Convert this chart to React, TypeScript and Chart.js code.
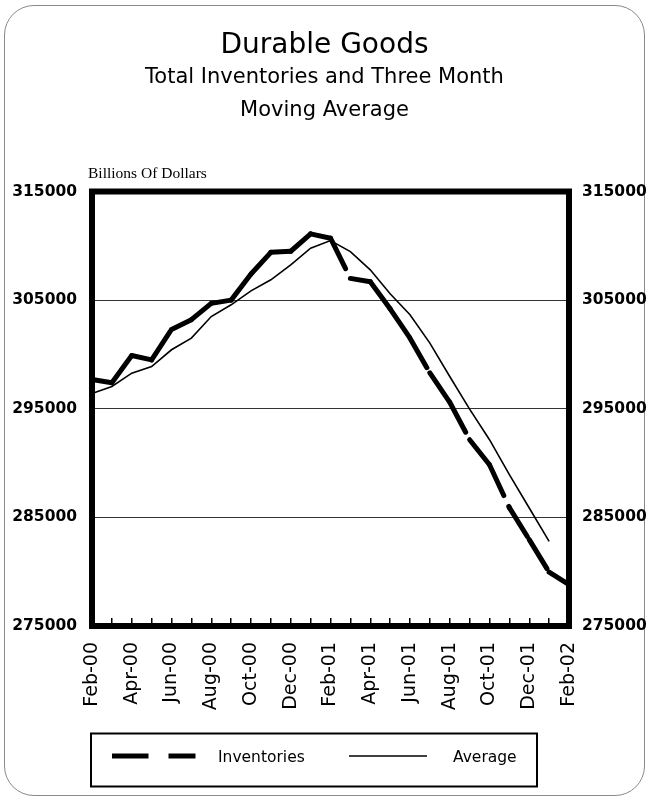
import React, { useEffect, useRef } from 'react';
import { Chart, registerables } from 'chart.js';

Chart.register(...registerables);

const chartTitle = 'Durable Goods';
const chartSubtitle = ['Total Inventories and Three Month', 'Moving Average'];
const yAxisLabel = 'Billions Of Dollars';

const months = [
  'Feb-00', 'Mar-00', 'Apr-00', 'May-00', 'Jun-00', 'Jul-00', 'Aug-00', 'Sep-00',
  'Oct-00', 'Nov-00', 'Dec-00', 'Jan-01', 'Feb-01', 'Mar-01', 'Apr-01', 'May-01',
  'Jun-01', 'Jul-01', 'Aug-01', 'Sep-01', 'Oct-01', 'Nov-01', 'Dec-01', 'Jan-02', 'Feb-02',
];

const inventories = [
  297700, 297400, 299900, 299500, 302300, 303200, 304700, 305000,
  307400, 309400, 309500, 311100, 310700, 307000, 306700, 304200,
  301500, 298300, 295600, 292150, 289850, 285900, 282950, 279950, 278800,
];

const average = [
  296400, 297050, 298280, 298890, 300430, 301500, 303490, 304570,
  305850, 306870, 308250, 309780, 310480, 309470, 307790, 305580,
  303650, 301040, 297970, 294970, 292150, 288930, 285860, 282790, null,
];

const seriesNames = ['Inventories', 'Average'];
const yTickValues = [275000, 285000, 295000, 305000, 315000];

const FONT = '"DejaVu Sans", "Verdana", sans-serif';

export default function App() {
  const canvasRef = useRef<HTMLCanvasElement | null>(null);

  useEffect(() => {
    const canvas = canvasRef.current;
    if (!canvas) return;

    const decor = {
      id: 'decor',
      afterDatasetsDraw(chart: any) {
        const { ctx, chartArea: a } = chart;
        ctx.save();
        ctx.strokeStyle = '#000';
        ctx.lineWidth = 6;
        ctx.setLineDash([]);
        ctx.strokeRect(a.left, a.top, a.right - a.left, a.bottom - a.top);
        ctx.restore();
      },
      afterDraw(chart: any) {
        const { ctx, chartArea: a } = chart;
        ctx.save();
        // axis unit label
        ctx.fillStyle = '#000';
        ctx.font = '15.5px "Liberation Serif", "Times New Roman", serif';
        ctx.textAlign = 'left';
        ctx.textBaseline = 'alphabetic';
        ctx.fillText(yAxisLabel, a.left - 4, a.top - 14);

        // legend box
        ctx.strokeStyle = '#000';
        ctx.lineWidth = 2;
        ctx.setLineDash([]);
        ctx.strokeRect(91, 733.5, 446, 53);

        const ly = 756;
        // Inventories sample
        ctx.lineWidth = 5;
        ctx.lineCap = 'butt';
        ctx.setLineDash([36.5, 20, 27, 1000]);
        ctx.beginPath();
        ctx.moveTo(112, ly);
        ctx.lineTo(196, ly);
        ctx.stroke();
        // Average sample
        ctx.setLineDash([]);
        ctx.lineWidth = 1.6;
        ctx.beginPath();
        ctx.moveTo(349, ly);
        ctx.lineTo(427, ly);
        ctx.stroke();

        ctx.font = '15.5px ' + FONT;
        ctx.textBaseline = 'middle';
        ctx.fillText(seriesNames[0], 218, ly + 2);
        ctx.fillText(seriesNames[1], 453, ly + 2);
        ctx.restore();
      },
    };

    const yMin = yTickValues[0];
    const yMax = yTickValues[yTickValues.length - 1];
    const yStep = yTickValues[1] - yTickValues[0];

    const chart = new Chart(canvas, {
      type: 'line',
      data: {
        labels: months,
        datasets: [
          {
            label: seriesNames[0],
            data: inventories,
            borderColor: '#000',
            backgroundColor: '#000',
            borderWidth: 5,
            borderDash: [34, 12],
            borderCapStyle: 'round',
            borderJoinStyle: 'round',
            pointRadius: 0,
            tension: 0,
            yAxisID: 'y',
            segment: {
              borderDashOffset: (c: any) => c.p0DataIndex * 0.001,
            },
          },
          {
            label: seriesNames[1],
            data: average,
            borderColor: '#000',
            backgroundColor: '#000',
            borderWidth: 1.6,
            pointRadius: 0,
            tension: 0,
            yAxisID: 'y',
          },
        ],
      },
      options: {
        responsive: false,
        animation: false,
        layout: { padding: { top: 0, left: 0, right: 0, bottom: 0 } },
        plugins: {
          legend: { display: false },
          tooltip: { enabled: false },
          title: {
            display: true,
            text: chartTitle,
            color: '#000',
            font: { family: FONT, size: 28, weight: 'normal', lineHeight: '30px' },
            padding: { top: 31, bottom: 0 },
          },
          subtitle: {
            display: true,
            text: chartSubtitle,
            color: '#000',
            font: { family: FONT, size: 21, weight: 'normal', lineHeight: '33px' },
            padding: { top: 0.5, bottom: 64 },
          },
        },
        scales: {
          x: {
            type: 'category',
            offset: false,
            grid: {
              display: true,
              drawOnChartArea: false,
              drawTicks: true,
              tickLength: -8,
              color: '#000',
              lineWidth: 1.5,
            },
            border: { display: false },
            ticks: {
              autoSkip: false,
              minRotation: 90,
              maxRotation: 90,
              padding: 24,
              color: '#000',
              font: { family: FONT, size: 19 },
              callback: (_v: any, i: number) => (i % 2 === 0 ? months[i] : ''),
            },
            afterFit: (s: any) => {
              s.height = 175;
            },
          },
          y: {
            position: 'left',
            min: yMin,
            max: yMax,
            ticks: {
              stepSize: yStep,
              padding: 15,
              color: '#000',
              font: { family: FONT, size: 15.5, weight: 'bold' },
              callback: (v: any) => String(v),
            },
            grid: { color: '#333', lineWidth: 1, drawTicks: false },
            border: { display: false },
            afterFit: (s: any) => {
              s.width = 92;
            },
          },
          y2: {
            position: 'right',
            min: yMin,
            max: yMax,
            ticks: {
              stepSize: yStep,
              padding: 13,
              color: '#000',
              font: { family: FONT, size: 15.5, weight: 'bold' },
              callback: (v: any) => String(v),
            },
            grid: { display: false, drawTicks: false },
            border: { display: false },
            afterFit: (s: any) => {
              s.width = 80;
            },
          },
        },
      } as any,
      plugins: [decor],
    });

    return () => {
      chart.destroy();
    };
  }, []);

  return (
    <div style={{ position: 'absolute', left: 0, top: 0, width: 649, height: 801, background: '#fff' }}>
      <div
        style={{
          position: 'absolute',
          left: 4,
          top: 5,
          width: 641,
          height: 791,
          boxSizing: 'border-box',
          border: '1px solid #8a8a8a',
          borderRadius: 30,
        }}
      />
      <canvas
        ref={canvasRef}
        width={649}
        height={801}
        style={{ position: 'absolute', left: 0, top: 0, width: 649, height: 801 }}
      />
    </div>
  );
}
